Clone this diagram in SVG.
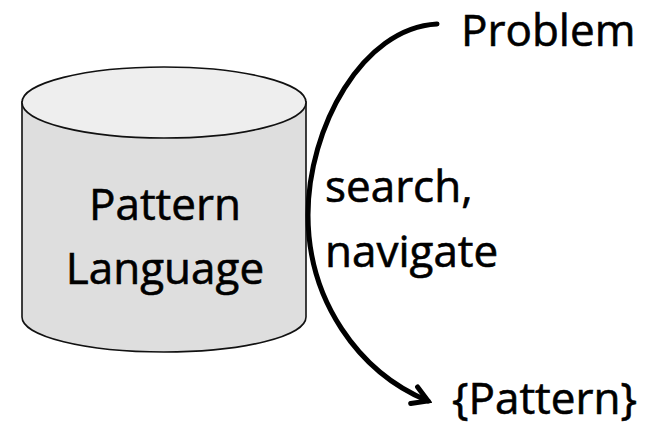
<svg xmlns="http://www.w3.org/2000/svg" width="659" height="432" viewBox="0 0 659 432">
  <style>
    .lbl { font-family: "Open Sans", "Liberation Sans", sans-serif; font-size: 44px; fill: #000; stroke: #000; stroke-width: 0.6; }
    .db-body { fill: #dedede; stroke: #111; stroke-width: 1.6; }
    .db-top { fill: #eeeeee; stroke: #111; stroke-width: 1.6; }
    .flow { fill: none; stroke: #000; stroke-width: 5; stroke-linecap: round; }
  </style>
  <defs>
    <marker id="chevron" markerUnits="userSpaceOnUse" viewBox="-20 -14 24 28" refX="0" refY="0" markerWidth="24" markerHeight="28" orient="auto">
      <path d="M -15 -9 L 0 0 L -15 9" fill="none" stroke="#000" stroke-width="5" stroke-linecap="round" stroke-linejoin="miter"/>
    </marker>
  </defs>
  <rect width="659" height="432" fill="#fff"/>

  <g id="pattern-language">
    <path class="db-body" d="M 22 102 L 22 317 A 142 35 0 0 0 306 317 L 306 102 Z"/>
    <ellipse class="db-top" cx="164" cy="102.5" rx="142" ry="35.5"/>
    <text class="lbl" x="165" y="220" text-anchor="middle">Pattern</text>
    <text class="lbl" x="165" y="284" text-anchor="middle">Language</text>
  </g>

  <g id="problem">
    <text class="lbl" x="461" y="46">Problem</text>
  </g>

  <g id="patterns">
    <text class="lbl" x="452" y="414">{Pattern}</text>
  </g>

  <g id="connectors">
    <path class="flow" d="M 437 24 C 362 28, 308 128, 308 215 C 308 300, 358 372, 428 401" marker-end="url(#chevron)"/>
    <text class="lbl" x="325" y="202">search,</text>
    <text class="lbl" x="325" y="267">navigate</text>
  </g>
</svg>
